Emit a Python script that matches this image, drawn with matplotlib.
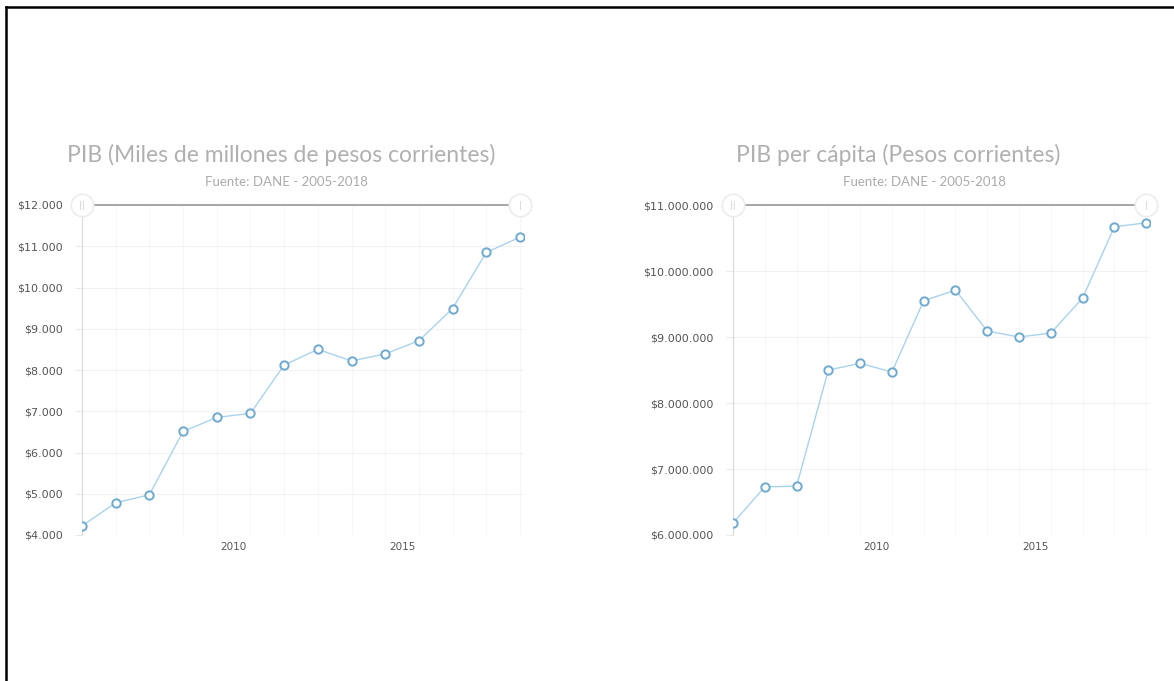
import matplotlib
matplotlib.use('Agg')
import matplotlib.pyplot as plt
from matplotlib.lines import Line2D
from matplotlib.ticker import FuncFormatter

# datos
years = list(range(2005, 2019))
pib = [4220, 4780, 4975, 6510, 6850, 6950, 8120, 8500, 8220, 8390, 8710, 9490, 10850, 11220]
pib_pc = [6180000, 6730000, 6740000, 8500000, 8600000, 8470000, 9550000, 9710000,
          9090000, 9000000, 9060000, 9590000, 10670000, 10730000]
year_ticks = [2009.5, 2014.5]
year_labels = ['2010', '2015']

W, H = 1174, 681
fig = plt.figure(figsize=(W / 100, H / 100), dpi=100)
fig.patch.set_facecolor('white')

def money(v, pos):
    return '$' + '{:,.0f}'.format(v).replace(',', '.')

def draw(ax, y, ylo, yhi, ystep, title, subtitle, tx, sx):
    ax.plot(years, y, color='#a9d3ec', lw=1.0, marker='o', ms=6,
            mfc='white', mec='#6fa9cf', mew=1.4, zorder=3)
    ax.set_xlim(2005, 2018.12)
    ax.set_ylim(ylo, yhi)
    ax.set_yticks(list(range(ylo, yhi + 1, ystep)))
    ax.yaxis.set_major_formatter(FuncFormatter(money))
    ax.set_xticks(year_ticks)
    ax.set_xticklabels(year_labels)
    ax.set_xticks(years, minor=True)
    for s in ['top', 'right', 'bottom']:
        ax.spines[s].set_visible(False)
    ax.spines['left'].set_color('#dadada')
    ax.tick_params(axis='y', length=5, color='#ebebeb', labelsize=8, labelcolor='#555555', pad=9)
    ax.tick_params(axis='x', which='both', length=0, labelsize=7.5, labelcolor='#555555', pad=5)
    ax.grid(axis='y', color='#f2f2f2', lw=0.8)
    ax.grid(axis='x', which='minor', color='#f7f7f7', lw=0.8)
    # barra de desplazamiento superior
    ax.plot([2005.3, 2017.7], [yhi, yhi], color='#a0a0a0', lw=1.3, clip_on=False, zorder=4)
    ax.scatter([2005, 2018], [yhi, yhi], s=260, facecolor='white', edgecolor='#ececec',
               lw=1.2, clip_on=False, zorder=5)
    for xx in [2005, 2018]:
        ax.text(xx, yhi, '||' if xx == 2005 else '|', fontsize=6, color='#cfcfcf',
                ha='center', va='center', zorder=6, clip_on=False)
    fig.text(tx / W, 1 - 155 / H, title, ha='center', va='center', fontsize=16.5,
             color='#b0b0b0', family='Lato')
    fig.text(sx / W, 1 - 182 / H, subtitle, ha='center', va='center', fontsize=9.5,
             color='#ababab', family='Lato')

bottom = 1 - 535 / H
height = (535 - 205) / H

ax1 = fig.add_axes([82 / W, bottom, (524 - 82) / W, height])
draw(ax1, pib, 4000, 12000, 1000,
     'PIB (Miles de millones de pesos corrientes)', 'Fuente: DANE - 2005-2018', 281, 286)

ax2 = fig.add_axes([733 / W, bottom, (1150 - 733) / W, height])
draw(ax2, pib_pc, 6000000, 11000000, 1000000,
     'PIB per cápita (Pesos corrientes)', 'Fuente: DANE - 2005-2018', 898, 924)

# marco negro superior e izquierdo
fig.add_artist(Line2D([5.5 / W, 1], [1 - 6.5 / H, 1 - 6.5 / H], color='black', lw=1.8))
fig.add_artist(Line2D([5.5 / W, 5.5 / W], [0, 1 - 6.5 / H], color='black', lw=1.8))

fig.savefig('out.png', dpi=100, facecolor='white')
